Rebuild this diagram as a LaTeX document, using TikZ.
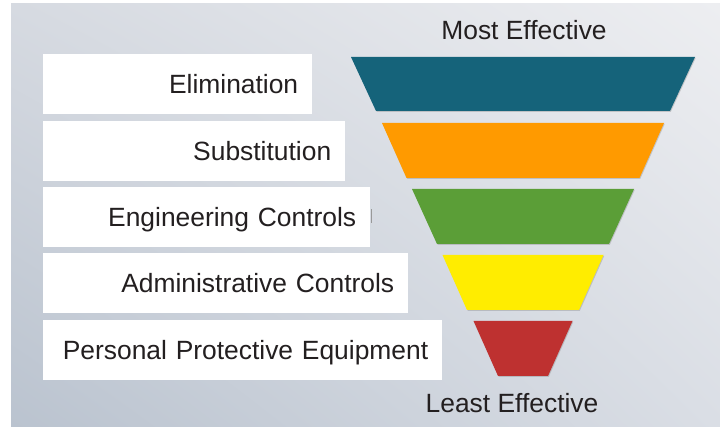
\documentclass[tikz,border=0pt]{standalone}
\usepackage{fontspec}
\setmainfont{Liberation Sans}
\usepackage{tikz}
\usetikzlibrary{calc}
\usetikzlibrary{shadows}
\usetikzlibrary{shadings}
\definecolor{bgtl}{HTML}{D6DAE1}
\definecolor{bgbl}{HTML}{BAC3CF}
\definecolor{bgtr}{HTML}{EDEEF1}
\definecolor{bgbr}{HTML}{DADEE5}
\definecolor{txtgray}{HTML}{231F20}
\definecolor{elimteal}{HTML}{15637A}
\definecolor{subsorange}{HTML}{FF9A00}
\definecolor{enggreen}{HTML}{5B9E37}
\definecolor{adminyellow}{HTML}{FFED00}
\definecolor{ppered}{HTML}{BE3130}

\begin{document}
\begin{tikzpicture}[x=1pt, y=-1pt,
	ctrlbox/.style={fill=white, anchor=north west, minimum height=60pt, inner xsep=14pt, inner ysep=0pt,
		align=right, text height=19pt, text depth=0pt, text=txtgray, font=\fontsize{26.4}{30}\selectfont},
	endlabel/.style={anchor=base, text=txtgray, inner sep=0pt, font=\fontsize{26.4}{30}\selectfont},
	layer/.style={drop shadow={shadow xshift=.8pt, shadow yshift=-.8pt, fill=gray, opacity=.35}}]
	\useasboundingbox[fill=white] (0,0) rectangle (720,427);
	% background
	\shade[upper left=bgtl, lower left=bgbl, upper right=bgtr, lower right=bgbr] (11,4) rectangle (720,427);

	% labels on the left
	\node[ctrlbox, text width=241pt] (elim) at (43,54) {Elimination};
	\node[ctrlbox, text width=274pt] (subs) at (43,121) {Substitution};
	\node[ctrlbox, text width=299pt] (eng) at (43,187) {Engineering Controls};
	\node[ctrlbox, text width=337pt] (admin) at (43,253) {Administrative Controls};
	\node[ctrlbox, text width=371pt] (ppe) at (43,320) {Personal Protective Equipment};
	\draw[gray!80, line width=1pt] ($(eng.east)+(1,-8)$) -- ($(eng.east)+(1,6)$);

	% funnel
	\fill[elimteal, layer] (351,57) -- (695,57) -- (670,111) -- (376,111) -- cycle;
	\fill[subsorange, layer] (382,123) -- (664,123) -- (639.5,178) -- (406.5,178) -- cycle;
	\fill[enggreen, layer] (412,189) -- (634,189) -- (609,244) -- (437,244) -- cycle;
	\fill[adminyellow, layer] (442.5,255) -- (603.5,255) -- (579,310) -- (467,310) -- cycle;
	\fill[ppered, layer] (473.5,321) -- (572.5,321) -- (548,376) -- (498,376) -- cycle;

	\node[endlabel] (most) at (524,40) {Most Effective};
	\node[endlabel] (least) at (512,412) {Least Effective};
\end{tikzpicture}
\end{document}
